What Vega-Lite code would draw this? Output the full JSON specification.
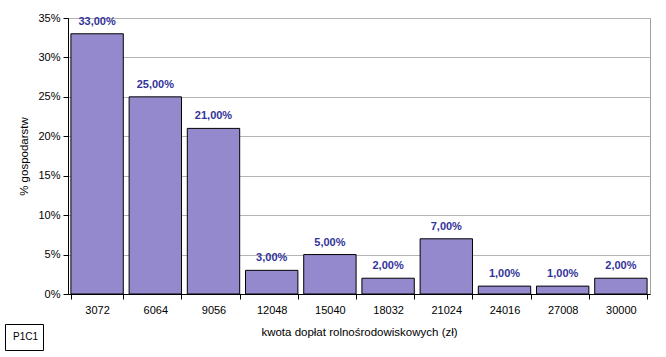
{
  "$schema": "https://vega.github.io/schema/vega-lite/v6.json",
  "width": 582,
  "height": 276,
  "autosize": {"type": "none"},
  "padding": {"left": 68, "top": 18, "right": 16, "bottom": 63},
  "background": "white",
  "config": {
    "locale": {"number": {"decimal": ",", "thousands": " ", "grouping": [3], "currency": ["", " zł"]}},
    "font": "Liberation Sans",
    "view": {"stroke": "#a0a0a0", "strokeWidth": 1}
  },
  "data": {
    "values": [
      {"kwota": "3072", "pct": 0.33},
      {"kwota": "6064", "pct": 0.25},
      {"kwota": "9056", "pct": 0.21},
      {"kwota": "12048", "pct": 0.03},
      {"kwota": "15040", "pct": 0.05},
      {"kwota": "18032", "pct": 0.02},
      {"kwota": "21024", "pct": 0.07},
      {"kwota": "24016", "pct": 0.01},
      {"kwota": "27008", "pct": 0.01},
      {"kwota": "30000", "pct": 0.02}
    ]
  },
  "encoding": {
    "x": {
      "field": "kwota", "type": "nominal", "sort": null,
      "scale": {"paddingInner": 0.1, "paddingOuter": 0.05},
      "axis": {
        "title": "kwota dopłat rolnośrodowiskowych (zł)",
        "labelAngle": 0, "labelFontSize": 11, "labelColor": "black", "labelPadding": 5,
        "titleFontSize": 11.5, "titleFontWeight": "normal", "titleColor": "black", "titlePadding": 11,
        "domainColor": "black", "tickColor": "black", "tickSize": 5, "tickBand": "extent"
      }
    },
    "y": {
      "field": "pct", "type": "quantitative",
      "scale": {"domain": [0, 0.35], "nice": false},
      "axis": {
        "title": "% gospodarstw", "format": ".0%", "values": [0, 0.05, 0.1, 0.15, 0.2, 0.25, 0.3, 0.35],
        "labelFontSize": 11, "labelColor": "black", "labelPadding": 3,
        "titleFontSize": 11.5, "titleFontWeight": "normal", "titleColor": "black", "titlePadding": 8,
        "domainColor": "black", "tickColor": "black", "tickSize": 5,
        "gridColor": "#b4b4b4", "gridOpacity": 1
      }
    }
  },
  "layer": [
    {
      "mark": {"type": "bar", "fill": "#9489cc", "stroke": "black", "strokeWidth": 1},
      "encoding": {
        "color": {
          "datum": "P1C1",
          "scale": {"range": ["#9489cc"]},
          "legend": {
            "title": null, "orient": "none", "legendX": -63, "legendY": 306,
            "symbolSize": 300, "symbolOpacity": 0, "symbolStrokeWidth": 0, "symbolType": "circle", "labelOffset": -14,
            "labelFontSize": 10, "labelColor": "black", "strokeColor": "black",
            "padding": 4, "fillColor": "white"
          }
        }
      }
    },
    {
      "mark": {"type": "text", "baseline": "bottom", "dy": -7, "fontWeight": "bold", "fontSize": 11, "color": "#333399"},
      "encoding": {
        "text": {"field": "pct", "type": "quantitative", "format": ".2%"}
      }
    }
  ]
}
